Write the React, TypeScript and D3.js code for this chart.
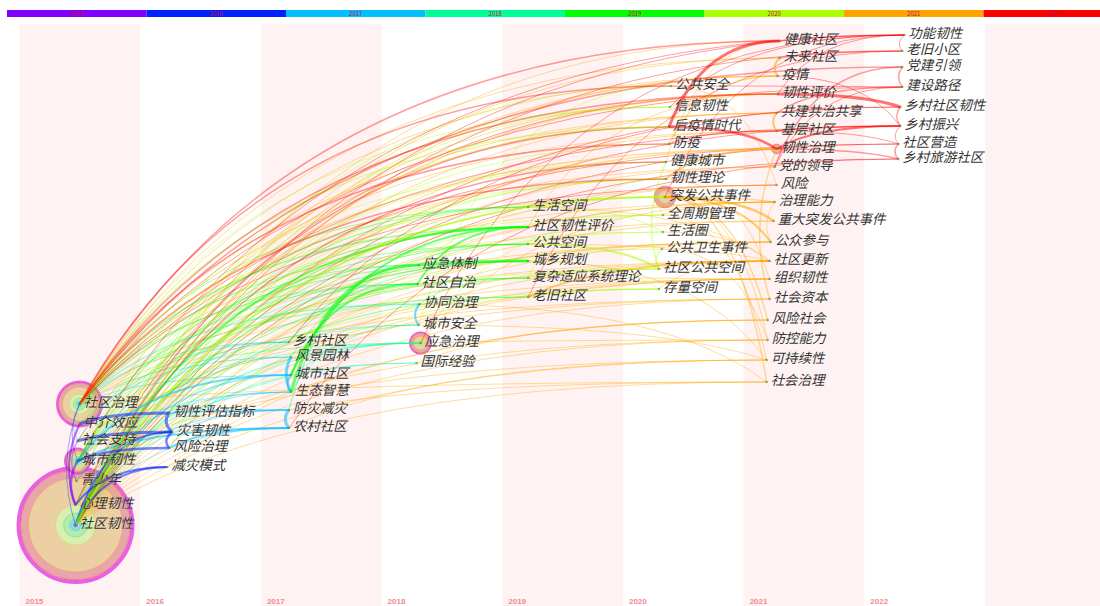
import React from 'react';
import * as d3 from 'd3';

// timezone years and their CiteSpace colours
const years = [2015, 2016, 2017, 2018, 2019, 2020, 2021, 2022];
const yearColors = ['#7f00ff', '#0022ff', '#00bfff', '#00ff99', '#00ff00', '#aaff00', '#ffa500', '#ff0000'];
const ringColors = ['#c9a0f0', '#a0a8f0', '#9fd8f0', '#a0f0d0', '#b5eab0', '#d9eeb0', '#edcfa4', '#e8a6aa'];

// keyword, year of first appearance, row (label centre), label shift inside the year column
const keywords: [string, number, number, number][] = [
  ['社区治理', 2015, 402, 64], ['中介效应', 2015, 422, 64], ['社会支持', 2015, 439, 62],
  ['城市韧性', 2015, 459, 62], ['青少年', 2015, 479, 61], ['心理韧性', 2015, 503, 60],
  ['社区韧性', 2015, 523, 60],
  ['韧性评估指标', 2016, 411, 33], ['灾害韧性', 2016, 430, 36], ['风险治理', 2016, 446, 33],
  ['减灾模式', 2016, 465, 31],
  ['乡村社区', 2017, 340, 32], ['风景园林', 2017, 355, 34], ['城市社区', 2017, 373, 34],
  ['生态智慧', 2017, 390, 34], ['防灾减灾', 2017, 408, 32], ['农村社区', 2017, 426, 32],
  ['应急体制', 2018, 263, 41], ['社区自治', 2018, 282, 40], ['协同治理', 2018, 302, 42],
  ['城市安全', 2018, 323, 41], ['应急治理', 2018, 341, 43], ['国际经验', 2018, 361, 39],
  ['生活空间', 2019, 205, 30], ['社区韧性评价', 2019, 225, 30], ['公共空间', 2019, 242, 30],
  ['城乡规划', 2019, 259, 30], ['复杂适应系统理论', 2019, 276, 30], ['老旧社区', 2019, 295, 30],
  ['公共安全', 2020, 84, 52], ['信息韧性', 2020, 105, 51], ['后疫情时代', 2020, 125, 50],
  ['防疫', 2020, 142, 50], ['健康城市', 2020, 160, 47], ['韧性理论', 2020, 177, 47],
  ['突发公共事件', 2020, 195, 46], ['全周期管理', 2020, 213, 44], ['生活圈', 2020, 230, 44],
  ['公共卫生事件', 2020, 247, 43], ['社区公共空间', 2020, 267, 40], ['存量空间', 2020, 287, 40],
  ['健康社区', 2021, 39, 40], ['未来社区', 2021, 56, 40], ['疫情', 2021, 74, 38],
  ['韧性评价', 2021, 92, 38], ['共建共治共享', 2021, 111, 37], ['基层社区', 2021, 129, 37],
  ['韧性治理', 2021, 147, 37], ['党的领导', 2021, 165, 35], ['风险', 2021, 183, 37],
  ['治理能力', 2021, 200, 35], ['重大突发公共事件', 2021, 219, 34], ['公众参与', 2021, 240, 31],
  ['社区更新', 2021, 259, 30], ['组织韧性', 2021, 277, 30], ['社会资本', 2021, 297, 30],
  ['风险社会', 2021, 318, 28], ['防控能力', 2021, 338, 28], ['可持续性', 2021, 358, 27],
  ['社会治理', 2021, 380, 27],
  ['功能韧性', 2022, 33, 44], ['老旧小区', 2022, 49, 42], ['党建引领', 2022, 65, 42],
  ['建设路径', 2022, 85, 42], ['乡村社区韧性', 2022, 105, 40], ['乡村振兴', 2022, 124, 40],
  ['社区营造', 2022, 142, 38], ['乡村旅游社区', 2022, 157, 38],
];

// citation tree rings: frequency per year 2015..2022, centrality ring width
const rings: [string, number[], number][] = [
  ['社区韧性', [1, 1, 3, 1, 6, 8, 27, 8], 4],
  ['社区治理', [0.5, 0.5, 1, 1, 3, 4, 7, 4], 2.5],
  ['城市韧性', [0.5, 0.5, 1, 0.5, 2, 2, 3, 2], 2],
  ['应急治理', [0, 0, 0, 0.5, 1, 1.5, 4, 3], 1.5],
  ['突发公共事件', [0, 0, 0, 0, 0, 1.5, 5, 4.5], 0],
  ['韧性治理', [0, 0, 0, 0, 0, 0, 3, 2], 0],
];

// co-occurrence links: target, strength, year of the link (0 = later node's year)
const fanSheQuRenXing: [string, number, number][] = [
  ['灾害韧性', 2, 0], ['减灾模式', 2, 0], ['乡村社区', 1, 0], ['风景园林', 1, 0], ['城市社区', 1.5, 0],
  ['生态智慧', 1, 0], ['防灾减灾', 1, 0], ['农村社区', 1, 0], ['应急体制', 1, 0], ['社区自治', 1, 0],
  ['协同治理', 1, 0], ['城市安全', 1, 0], ['应急治理', 1.5, 0], ['国际经验', 1, 0], ['生活空间', 1, 0],
  ['社区韧性评价', 2, 0], ['公共空间', 1, 0], ['城乡规划', 1.5, 0], ['复杂适应系统理论', 1, 0],
  ['老旧社区', 1, 0], ['公共安全', 1, 0], ['信息韧性', 1, 0], ['后疫情时代', 1.5, 2022], ['防疫', 1, 0],
  ['健康城市', 1.5, 2022], ['韧性理论', 1, 0], ['突发公共事件', 2, 0], ['全周期管理', 1, 0], ['生活圈', 1, 0],
  ['公共卫生事件', 1, 0], ['社区公共空间', 1, 0], ['存量空间', 1, 0], ['健康社区', 1, 0], ['未来社区', 1, 0],
  ['疫情', 1, 0], ['韧性评价', 1.5, 0], ['共建共治共享', 1, 0], ['基层社区', 1, 0], ['韧性治理', 1.5, 0],
  ['党的领导', 1, 0], ['风险', 1, 0], ['治理能力', 1, 0], ['重大突发公共事件', 1, 0], ['公众参与', 1, 0],
  ['社区更新', 1, 0], ['组织韧性', 1, 0], ['社会资本', 1, 0], ['风险社会', 1, 0], ['防控能力', 1, 0],
  ['可持续性', 1, 0], ['社会治理', 1, 0], ['功能韧性', 1, 0], ['老旧小区', 1, 0], ['乡村社区韧性', 1, 0],
  ['乡村振兴', 1, 0], ['社区营造', 1, 0], ['乡村旅游社区', 1, 0],
];

const fanSheQuZhiLi: [string, number, number][] = [
  ['乡村社区', 1, 0], ['城市社区', 1, 0], ['社区自治', 1, 2019], ['协同治理', 1.5, 0], ['应急治理', 1, 0],
  ['社区韧性评价', 1.5, 0], ['城乡规划', 1, 0], ['生活空间', 1, 0], ['公共安全', 1.5, 2022],
  ['信息韧性', 1, 0], ['后疫情时代', 1.5, 0], ['防疫', 1.5, 2022], ['健康城市', 1, 0], ['韧性理论', 1.5, 2022],
  ['突发公共事件', 1, 0], ['全周期管理', 1, 0], ['健康社区', 1.5, 2022], ['未来社区', 1, 0], ['疫情', 1, 0],
  ['韧性评价', 1.5, 2022], ['共建共治共享', 1, 0], ['基层社区', 1, 0], ['韧性治理', 1.5, 0], ['党的领导', 1, 0],
  ['治理能力', 1, 0], ['社会治理', 1, 0], ['社会资本', 1, 0], ['党建引领', 1.5, 0], ['建设路径', 1, 0],
  ['社区营造', 1, 0], ['乡村振兴', 1, 0], ['公共空间', 1, 0], ['老旧社区', 1, 0], ['社区更新', 1, 0],
  ['公众参与', 1, 0], ['风险', 1, 2022], ['组织韧性', 1, 0],
];

const fanChengShiRenXing: [string, number, number][] = [
  ['风险治理', 2.5, 0], ['城市社区', 2, 0], ['生态智慧', 1, 0], ['农村社区', 2, 2017], ['城市安全', 1, 0],
  ['应急治理', 1, 0], ['复杂适应系统理论', 1, 0], ['城乡规划', 1, 0], ['健康城市', 1, 0], ['韧性理论', 1, 0],
  ['突发公共事件', 1, 0], ['信息韧性', 1, 0], ['韧性评价', 1, 0], ['风险', 1, 0], ['组织韧性', 1, 0],
  ['可持续性', 1, 0], ['功能韧性', 1, 0], ['生活空间', 1, 0], ['公共空间', 1, 0], ['存量空间', 1, 0],
  ['社区更新', 1, 0], ['应急体制', 1, 2019],
];

const otherLinks: [string, string, number, number][] = [
  // inside 2015
  ['社区治理', '城市韧性', 1, 0], ['中介效应', '心理韧性', 2, 0], ['城市韧性', '心理韧性', 2.5, 0],
  ['社区治理', '社区韧性', 1, 2016], ['社会支持', '青少年', 1.5, 0], ['社区治理', '社会支持', 1, 2017],
  // 2015 -> others
  ['中介效应', '韧性评估指标', 3, 0], ['社会支持', '灾害韧性', 3, 0], ['心理韧性', '减灾模式', 2, 0],
  ['心理韧性', '灾害韧性', 1, 0], ['心理韧性', '防灾减灾', 1, 0], ['心理韧性', '后疫情时代', 1, 0],
  ['心理韧性', '疫情', 1, 0], ['心理韧性', '组织韧性', 1, 0], ['社会支持', '社区自治', 1, 0],
  ['社会支持', '公众参与', 1, 0], ['社会支持', '社会资本', 1, 0], ['青少年', '生态智慧', 1, 0],
  ['中介效应', '风景园林', 1, 0], ['社会支持', '乡村社区', 1, 2017], ['心理韧性', '韧性理论', 1, 0],
  ['青少年', '社区韧性评价', 1, 0], ['中介效应', '生活圈', 1, 0], ['社会支持', '共建共治共享', 1, 0],
  ['青少年', '防控能力', 1, 0], ['中介效应', '社区公共空间', 1, 0], ['心理韧性', '韧性评价', 1, 2022],
  // 2016
  ['韧性评估指标', '灾害韧性', 3, 0], ['灾害韧性', '风险治理', 2.5, 0], ['韧性评估指标', '防灾减灾', 2, 0],
  ['风险治理', '农村社区', 2, 0], ['灾害韧性', '国际经验', 1, 0], ['风险治理', '应急治理', 1, 0],
  ['减灾模式', '风险社会', 1, 2021], ['韧性评估指标', '社区韧性评价', 1, 0], ['风险治理', '治理能力', 1, 0],
  // 2017
  ['风景园林', '生态智慧', 3, 0], ['城市社区', '生态智慧', 2, 0], ['防灾减灾', '农村社区', 3, 0],
  ['城市社区', '应急治理', 1, 0], ['生态智慧', '城市安全', 1, 0], ['乡村社区', '社区自治', 1, 0],
  ['防灾减灾', '应急体制', 1.5, 0], ['生态智慧', '应急体制', 3, 2019], ['乡村社区', '城乡规划', 1, 0],
  ['风景园林', '公共空间', 1, 0], ['城市社区', '社区韧性评价', 2, 0], ['农村社区', '乡村旅游社区', 1, 0],
  ['乡村社区', '乡村社区韧性', 1, 0], ['城市社区', '社区自治', 2, 2019], ['防灾减灾', '社会治理', 1, 0],
  ['农村社区', '可持续性', 1, 0],
  // 2018
  ['协同治理', '城市安全', 2, 2017], ['应急体制', '城乡规划', 3, 0], ['社区自治', '社区韧性评价', 2, 0],
  ['协同治理', '复杂适应系统理论', 1, 0], ['应急体制', '突发公共事件', 1, 0], ['城市安全', '公共安全', 1, 0],
  ['应急治理', '全周期管理', 1, 0], ['应急治理', '防控能力', 1, 0], ['应急治理', '治理能力', 1, 0],
  ['国际经验', '风险社会', 1, 0], ['协同治理', '社会治理', 1, 0], ['社区自治', '公众参与', 1, 0],
  ['应急体制', '重大突发公共事件', 1, 0], ['城市安全', '可持续性', 1, 0], ['应急治理', '功能韧性', 1, 2022],
  // 2019
  ['生活空间', '生活圈', 1, 0], ['公共空间', '社区公共空间', 2, 0], ['城乡规划', '存量空间', 1, 0],
  ['复杂适应系统理论', '韧性理论', 1, 0], ['老旧社区', '存量空间', 1.5, 0], ['生活空间', '社区更新', 1, 0],
  ['老旧社区', '社区更新', 2, 0], ['复杂适应系统理论', '组织韧性', 1, 0], ['公共空间', '社区更新', 1, 0],
  ['社区韧性评价', '韧性评价', 1, 0], ['城乡规划', '可持续性', 1, 0], ['老旧社区', '老旧小区', 1, 0],
  ['复杂适应系统理论', '社区公共空间', 1.5, 0],
  // 2020
  ['健康城市', '社区公共空间', 1.5, 0], ['公共卫生事件', '社区公共空间', 1.5, 0], ['突发公共事件', '全周期管理', 1, 0],
  ['突发公共事件', '重大突发公共事件', 2.5, 0], ['突发公共事件', '公众参与', 2, 0], ['突发公共事件', '风险社会', 1.5, 0],
  ['突发公共事件', '社会治理', 1.5, 0], ['突发公共事件', '治理能力', 1.5, 0], ['全周期管理', '治理能力', 1, 0],
  ['公共卫生事件', '防控能力', 1, 0], ['生活圈', '社区更新', 1, 0], ['社区公共空间', '社区更新', 1, 0],
  ['存量空间', '社区更新', 1, 0], ['韧性理论', '组织韧性', 1, 0], ['信息韧性', '韧性评价', 1, 0],
  ['公共安全', '风险', 1, 0], ['防疫', '疫情', 1.5, 0], ['健康城市', '健康社区', 1, 0],
  ['后疫情时代', '健康社区', 3, 2022], ['后疫情时代', '韧性治理', 2.5, 2022], ['防疫', '基层社区', 1.5, 2022],
  ['韧性理论', '韧性治理', 2, 0], ['突发公共事件', '功能韧性', 1, 0], ['信息韧性', '功能韧性', 1, 0],
  ['公共安全', '建设路径', 1, 0], ['全周期管理', '可持续性', 1, 0], ['突发公共事件', '防控能力', 1, 0],
  // 2021
  ['未来社区', '疫情', 2, 0], ['韧性治理', '社会资本', 1.5, 0], ['共建共治共享', '基层社区', 2, 0],
  ['治理能力', '公众参与', 1, 0], ['韧性评价', '乡村社区韧性', 3, 0], ['韧性治理', '乡村振兴', 2, 0],
  ['共建共治共享', '建设路径', 1.5, 0], ['未来社区', '老旧小区', 1.5, 0], ['基层社区', '社区营造', 1, 0],
  ['党的领导', '党建引领', 1.5, 0], ['韧性治理', '乡村旅游社区', 1.5, 0], ['健康社区', '功能韧性', 1, 0],
  ['疫情', '乡村振兴', 1, 0], ['韧性评价', '功能韧性', 1, 0], ['党的领导', '建设路径', 1, 0],
  ['基层社区', '乡村振兴', 1.5, 0],
  // 2022
  ['党建引领', '建设路径', 1.5, 0], ['乡村社区韧性', '乡村振兴', 1.5, 0], ['社区营造', '乡村旅游社区', 1.5, 0],
  ['功能韧性', '老旧小区', 1, 0], ['乡村振兴', '社区营造', 1, 0],
];

const W = 1100;
const H = 606;

export default function App() {
  const x = d3.scaleLinear().domain([2015, 2023]).range([19.5, 985]);
  const y = d3.scaleLinear().domain([0, H]).range([0, H]);
  const colour = d3.scaleOrdinal<number, string>().domain(years).range(yearColors);
  const ringColour = d3.scaleOrdinal<number, string>().domain(years).range(ringColors);

  const nodes = new Map(
    keywords.map(([name, year, row, shift]) => {
      const lx = x(year) + shift;
      return [name, { name, year, lx, ly: y(row), nx: lx - 4, ny: y(row) + 2 }];
    })
  );

  const links: { s: string; t: string; w: number; c: number }[] = [];
  fanSheQuRenXing.forEach(([t, w, c]) => links.push({ s: '社区韧性', t, w, c }));
  fanSheQuZhiLi.forEach(([t, w, c]) => links.push({ s: '社区治理', t, w, c }));
  fanChengShiRenXing.forEach(([t, w, c]) => links.push({ s: '城市韧性', t, w, c }));
  otherLinks.forEach(([s, t, w, c]) => links.push({ s, t, w, c }));

  const linkPath = (a: any, b: any) => {
    let s = a;
    let t = b;
    if (t.nx < s.nx) [s, t] = [t, s];
    const dx = t.nx - s.nx;
    const dy = t.ny - s.ny;
    const p = d3.path();
    p.moveTo(s.nx, s.ny);
    if (dx < 30) {
      const bulge = 5 + Math.abs(dy) * 0.12;
      p.quadraticCurveTo(Math.min(s.nx, t.nx) - bulge, (s.ny + t.ny) / 2, t.nx, t.ny);
    } else if (dy <= 0) {
      p.quadraticCurveTo(s.nx + 0.3 * dx, t.ny, t.nx, t.ny);
    } else {
      p.quadraticCurveTo(s.nx + 0.7 * dx, s.ny, t.nx, t.ny);
    }
    return p.toString();
  };

  const barX = d3.scaleLinear().domain([2015, 2023]).range([7, 1123]);
  const bandYears = [2015, 2017, 2019, 2021, 2023];

  // thin links first, strong links on top
  const sorted = links
    .filter((l) => nodes.has(l.s) && nodes.has(l.t))
    .sort((a, b) => a.w - b.w);

  return (
    <svg
      width={W}
      height={H}
      style={{ position: 'absolute', left: 0, top: 0, background: '#fff' }}
      fontFamily="'Noto Sans CJK SC', sans-serif"
    >
      {bandYears.map((yr) => (
        <rect key={yr} x={x(yr)} y={24} width={x(yr + 1) - x(yr)} height={H - 24} fill="#fff2f2" />
      ))}

      {years.map((yr) => (
        <g key={yr}>
          <rect x={barX(yr)} y={10} width={barX(yr + 1) - barX(yr)} height={7} fill={colour(yr)} />
          <text x={(barX(yr) + barX(yr + 1)) / 2} y={16} fontSize={6} fill="#c0103a" textAnchor="middle">
            {yr}
          </text>
          <text x={x(yr) + 6} y={604} fontSize={8} fontWeight="bold" fill="#f08c8c" fontFamily="Arial, sans-serif">
            {yr}
          </text>
        </g>
      ))}

      {rings.map(([name, widths, centrality]) => {
        const n = nodes.get(name)!;
        const radii = d3.cumsum(widths);
        const outer = radii[radii.length - 1];
        return (
          <g key={name}>
            {centrality > 0 && (
              <circle cx={n.nx} cy={n.ny} r={outer + centrality / 2} fill="none" stroke="#e23ce0"
                strokeWidth={centrality} strokeOpacity={0.8} />
            )}
            {years
              .map((yr, i) => ({ yr, r: radii[i], w: widths[i] }))
              .filter((d) => d.w > 0)
              .reverse()
              .map((d) => (
                <circle key={d.yr} cx={n.nx} cy={n.ny} r={d.r} fill={ringColour(d.yr)}
                  stroke={d3.color(colour(d.yr))!.darker(0.3).formatHex()} strokeOpacity={0.35} strokeWidth={0.8} />
              ))}
          </g>
        );
      })}

      {sorted.map((l, i) => {
        const a = nodes.get(l.s)!;
        const b = nodes.get(l.t)!;
        const yr = l.c || Math.max(a.year, b.year);
        return (
          <path key={i} d={linkPath(a, b)} fill="none" stroke={colour(yr)}
            strokeWidth={l.w} strokeOpacity={l.w >= 2 ? 0.55 : 0.38} />
        );
      })}

      {[...nodes.values()].map((n) => (
        <circle key={n.name} cx={n.nx} cy={n.ny} r={1.3} fill="#4a8a4a" opacity={0.6} />
      ))}

      {[...nodes.values()].map((n) => (
        <text key={n.name} x={n.lx} y={n.ly + 5} fontSize={13.5} fontStyle="italic" fill="#333"
          stroke="#ffffff" strokeWidth={0.4} strokeOpacity={0.5} paintOrder="stroke">
          {n.name}
        </text>
      ))}
    </svg>
  );
}
